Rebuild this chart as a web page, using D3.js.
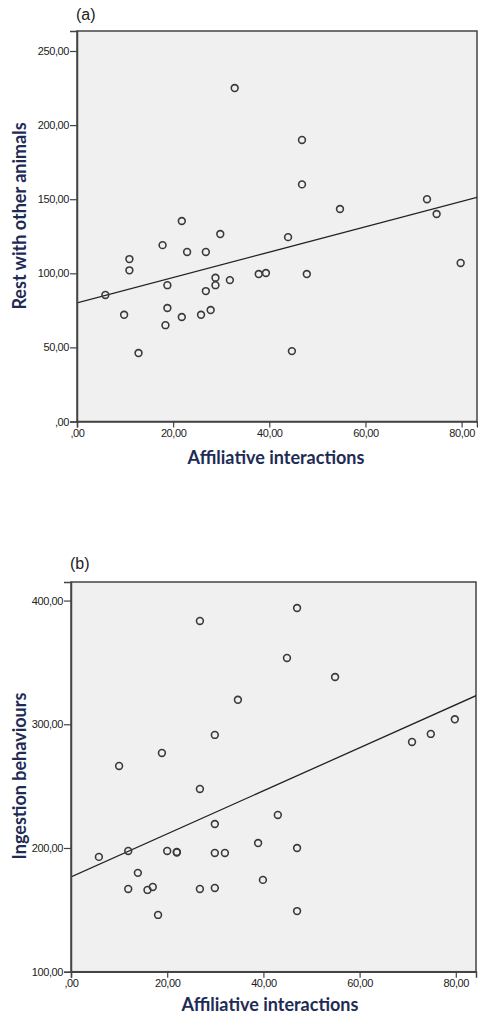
<!DOCTYPE html>
<html><head><meta charset="utf-8">
<script src="https://cdn.jsdelivr.net/npm/d3@7/dist/d3.min.js"></script>
<style>
html,body{margin:0;padding:0;background:#fff;}
svg{display:block;}
.tick text{font-family:"Liberation Sans Narrow","Liberation Sans",Arial,sans-serif;font-size:11px;fill:#222;letter-spacing:-0.4px;}
.ttl{font-family:Lato,"Open Sans",sans-serif;font-weight:700;font-size:18px;fill:#1e2b55;}
.lab{font-family:"Liberation Sans",Arial,sans-serif;font-size:16px;fill:#222;}
</style></head>
<body>
<script>
// Panel (a): Rest with other animals vs Affiliative interactions
const affA = [32.8,21.8,29.8,46.8,46.8,54.7,72.8,74.8,43.9,17.8,10.9,10.9,22.9,26.8,18.8,28.8,28.8,31.8,26.8,5.9,9.8,18.8,21.8,25.8,27.8,18.4,12.8,37.8,39.3,47.8,79.8,44.7];
const restA = [225,135.3,126.5,190,160,143.4,150,140,124.4,119,109.6,102,114.4,114.4,92,97,92,95.4,88,85.4,72,76.6,70.5,72,75.2,65,46.2,99.5,100.2,99.5,107,47.5];
const fitA = [80, 0.857]; // intercept, slope
const yTicksA = [0,50,100,150,200,250];

// Panel (b): Ingestion behaviours vs Affiliative interactions
const affB = [26.8,34.7,29.9,18.9,10,47,44.9,54.9,79.8,74.8,70.9,26.8,29.9,5.8,11.9,20,22,22,29.9,32,13.9,11.9,15.9,17,26.8,29.9,18.1,43,38.9,47,39.9,47];
const ingB = [383.5,319.8,291.4,276.8,266.3,394,353.6,338.2,304,292.2,285.7,247.7,219.4,192.8,197.6,197.6,196.8,196.4,196,196,179.9,166.9,166.1,168.5,166.9,167.7,145.9,226.7,204,200,174.2,149];
const fitB = [176.6, 1.74];
const yTicksB = [100,200,300,400];

const xTicks = [0,20,40,60,80];
const fmt = v => (v===0 ? "" : String(v)) + ",00";

const W = 478, H = 1016;
const svg = d3.select("body").append("svg").attr("width",W).attr("height",H);

function panel(cfg){
  const g = svg.append("g");
  const x = d3.scaleLinear().domain(cfg.xd).range([cfg.l, cfg.r]);
  const y = d3.scaleLinear().domain(cfg.yd).range([cfg.b, cfg.t]);
  g.append("rect").attr("x",cfg.l).attr("y",cfg.t).attr("width",cfg.r-cfg.l).attr("height",cfg.b-cfg.t)
    .attr("fill","#f0f0f0").attr("stroke","#444").attr("stroke-width",1.5);
  const clip = "clip"+cfg.id;
  g.append("clipPath").attr("id",clip).append("rect").attr("x",cfg.l).attr("y",cfg.t).attr("width",cfg.r-cfg.l).attr("height",cfg.b-cfg.t);
  g.append("line").attr("clip-path",`url(#${clip})`)
    .attr("x1",x(cfg.xd[0])).attr("y1",y(cfg.fit[0]+cfg.fit[1]*cfg.xd[0]))
    .attr("x2",x(cfg.xd[1])).attr("y2",y(cfg.fit[0]+cfg.fit[1]*cfg.xd[1]))
    .attr("stroke","#222").attr("stroke-width",1.3);
  g.selectAll("circle.p").data(cfg.xs).enter().append("circle")
    .attr("cx",(d)=>x(d)).attr("cy",(d,i)=>y(cfg.ys[i])).attr("r",3.4)
    .attr("fill","none").attr("stroke","#3a3a3a").attr("stroke-width",1.6);
  const ya = g.append("g").attr("transform",`translate(${cfg.l},0)`)
    .call(d3.axisLeft(y).tickValues(cfg.yt).tickFormat(fmt).tickSize(7).tickPadding(1));
  ya.select(".domain").attr("stroke","#444").attr("stroke-width",1.5);
  ya.selectAll(".tick line").attr("stroke","#444").attr("stroke-width",1.2);
  const xa = g.append("g").attr("transform",`translate(0,${cfg.b})`)
    .call(d3.axisBottom(x).tickValues(xTicks).tickFormat(fmt).tickSize(6).tickPadding(2));
  xa.select(".domain").attr("stroke","#444").attr("stroke-width",1.5);
  xa.selectAll(".tick line").attr("stroke","#444").attr("stroke-width",1.2);
  g.append("text").attr("class","ttl").attr("x",cfg.xlX).attr("y",cfg.xlY).attr("text-anchor","middle").text("Affiliative interactions");
  g.append("text").attr("class","ttl").attr("transform",`translate(${cfg.ylX},${cfg.ylY}) rotate(-90)`).attr("text-anchor","middle").text(cfg.ylab);
  g.append("text").attr("class","lab").attr("x",cfg.l-1).attr("y",cfg.labY).text(cfg.lab);
}

panel({id:"a", l:77, r:477, t:31, b:421.5, xd:[0,83.2], yd:[0,263.5],
  xs:affA, ys:restA, fit:fitA, yt:yTicksA, xlX:276, xlY:464, ylX:26, ylY:216, ylab:"Rest with other animals", lab:"(a)", labY:20});
panel({id:"b", l:71, r:476, t:582, b:971.7, xd:[0,84.2], yd:[100,415],
  xs:affB, ys:ingB, fit:fitB, yt:yTicksB, xlX:270, xlY:1011, ylX:26, ylY:776, ylab:"Ingestion behaviours", lab:"(b)", labY:569});
</script>
</body></html>
